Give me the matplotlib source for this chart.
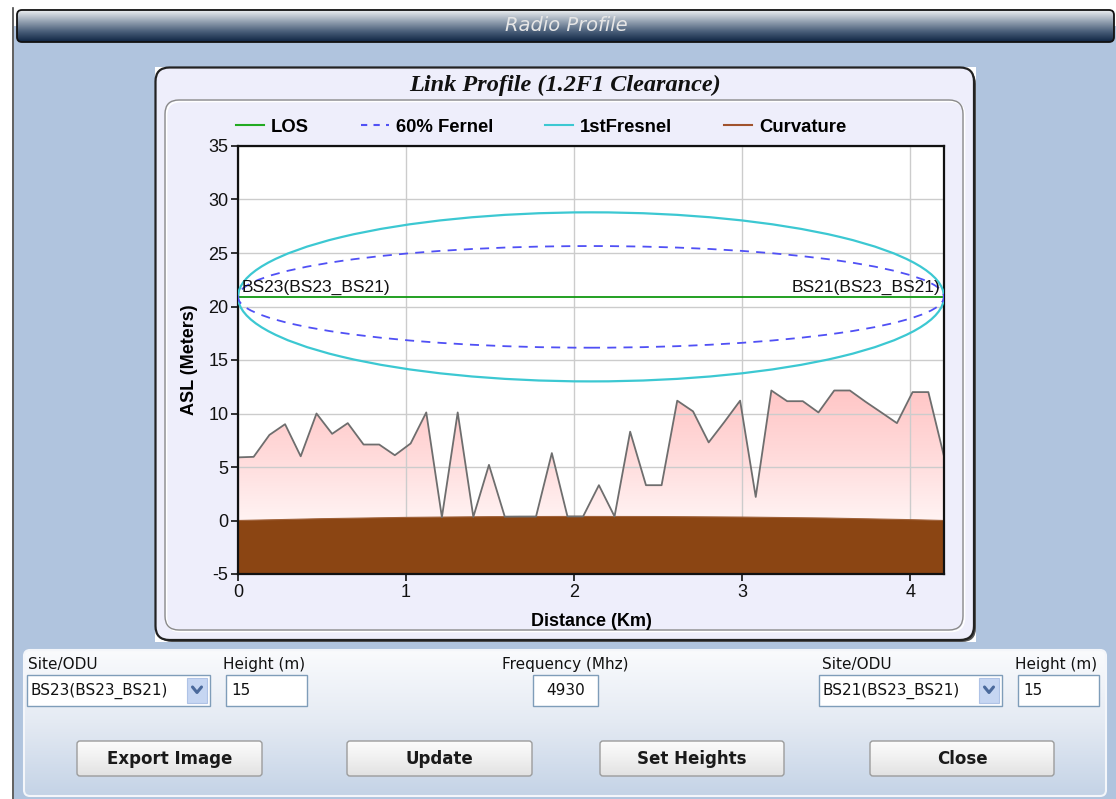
import numpy as np
import matplotlib
matplotlib.use("Agg")
import matplotlib.pyplot as plt
from matplotlib.patches import FancyBboxPatch, Ellipse, Rectangle
from matplotlib.colors import LinearSegmentedColormap
from matplotlib.lines import Line2D

plt.rcParams['font.family'] = ['Liberation Sans', 'DejaVu Sans']
plt.rcParams['axes.unicode_minus'] = False

# ---------------- data ----------------
window_title = "Radio Profile"
chart_title = "Link Profile (1.2F1 Clearance)"
x_label = "Distance (Km)"
y_label = "ASL (Meters)"
x_ticks = [0, 1, 2, 3, 4]
y_ticks = [-5, 0, 5, 10, 15, 20, 25, 30, 35]
legend_labels = ["LOS", "60% Fernel", "1stFresnel", "Curvature"]

site_a = "BS23(BS23_BS21)"
site_b = "BS21(BS23_BS21)"
link_length_km = 4.2
los_start_height = 20.9
los_end_height = 20.9
fresnel1_radius = 7.9       # first Fresnel zone radius at mid-path (m)
fresnel60_radius = 4.75     # 60 % Fresnel radius at mid-path (m)

terrain_dist = [0.000, 0.093, 0.187, 0.280, 0.373, 0.467, 0.560, 0.653, 0.747, 0.840,
                0.933, 1.027, 1.120, 1.213, 1.307, 1.400, 1.493, 1.587, 1.680, 1.773,
                1.867, 1.960, 2.053, 2.147, 2.240, 2.333, 2.427, 2.520, 2.613, 2.707,
                2.800, 2.893, 2.987, 3.080, 3.173, 3.267, 3.360, 3.453, 3.547, 3.640,
                3.733, 3.827, 3.920, 4.013, 4.107, 4.200]
terrain_height = [5.9, 5.95, 8.0, 9.0, 6.0, 10.0, 8.1, 9.1, 7.1, 7.1,
                  6.1, 7.2, 10.1, 0.31, 10.1, 0.34, 5.2, 0.36, 0.37, 0.37,
                  6.3, 0.38, 0.38, 3.3, 0.38, 8.3, 3.3, 3.3, 11.2, 10.2,
                  7.3, 9.2, 11.2, 2.2, 12.15, 11.15, 11.15, 10.1, 12.15, 12.15,
                  11.1, 10.1, 9.1, 12.0, 12.0, 6.0]

curv_dist = [0.0, 0.5, 1.0, 1.5, 2.0, 2.5, 3.0, 3.5, 4.0, 4.2]
curv_height = [0.0, 0.17, 0.29, 0.36, 0.38, 0.37, 0.32, 0.23, 0.08, 0.0]

ui_labels = ["Site/ODU", "Height (m)", "Frequency (Mhz)", "Site/ODU", "Height (m)"]
ui_values = [site_a, "15", "4930", site_b, "15"]
buttons = ["Export Image", "Update", "Set Heights", "Close"]

# ---------------- helpers ----------------
W, H = 1116, 799
fig = plt.figure(figsize=(W / 100, H / 100), dpi=100, facecolor="white")
bg = fig.add_axes([0, 0, 1, 1])
bg.set_zorder(0)
bg.axis("off")


def rbox(x0, y0, x1, y1, r, **kw):
    p = FancyBboxPatch((x0, y0), x1 - x0, y1 - y0,
                       boxstyle=f"round,pad=0,rounding_size={r}", **kw)
    bg.add_patch(p)
    return p


def gradient(patch, x0, y0, x1, y1, colors, z):
    arr = np.linspace(0, 1, 256).reshape(-1, 1)
    cmap = LinearSegmentedColormap.from_list("g", colors)
    im = bg.imshow(arr, cmap=cmap, extent=(x0, x1, y1, y0), origin="upper",
                   aspect="auto", interpolation="bicubic", zorder=z)
    im.set_clip_path(patch)
    return im


# window background
bg.add_patch(Rectangle((13.5, 26), W - 13.5, H - 26, facecolor="#B0C4DE", edgecolor="none", zorder=0.5))
bg.plot([12.5, 12.5], [8, H], color="#444444", lw=1.2, zorder=0.6)

# title bar
tb = rbox(17, 10, 1114, 42, 5, facecolor="none", edgecolor="none", zorder=1)
gradient(tb, 17, 10, 1114, 42, ["#EEF0F2", "#9AA7B6", "#4A5F7A", "#0E2442"], 1.1)
rbox(17, 10, 1114, 42, 5, facecolor="none", edgecolor="#111111", lw=1.3, zorder=1.2)
bg.text(566, 25.5, window_title, ha="center", va="center", color="#E6E6E6",
        fontsize=14, style="italic", family="DejaVu Sans", zorder=1.3)

# chart panel
bg.add_patch(Rectangle((155, 67), 821, 575, facecolor="white", edgecolor="none", zorder=1))
rbox(158, 70, 976, 642, 14, facecolor="#555555", edgecolor="none", zorder=1.1)
rbox(155.5, 67.5, 974, 640, 14, facecolor="#EEEEFB", edgecolor="#222222", lw=1.6, zorder=1.2)
rbox(166.5, 101.5, 964.5, 631.5, 14, facecolor="none", edgecolor="white", lw=1.2, zorder=1.3)
rbox(165, 100, 963, 630, 14, facecolor="none", edgecolor="#8A8A8A", lw=1.0, zorder=1.4)
bg.text(565, 85, chart_title, ha="center", va="center", fontsize=17.5,
        family="Liberation Serif", weight="bold", style="italic", color="#111111", zorder=1.5)

# bottom panel
bp = rbox(24, 650, 1106, 796, 6, facecolor="none", edgecolor="none", zorder=1)
gradient(bp, 24, 650, 1106, 796, ["#FAFBFD", "#E4EAF3", "#C4D3E6"], 1.1)
rbox(24, 650, 1106, 796, 6, facecolor="none", edgecolor="#F4F6FA", lw=1.5, zorder=1.2)

ui_font = dict(family="DejaVu Sans", fontsize=11, color="#111111", zorder=2)
label_x = [28, 223, 565, 822, 1015]
for i, (lab, lx) in enumerate(zip(ui_labels, label_x)):
    bg.text(lx, 664, lab, ha="center" if i == 2 else "left", va="center", **ui_font)

# combo boxes
for (x0, x1), val in [((27, 210), ui_values[0]), ((819, 1002), ui_values[3])]:
    bg.add_patch(Rectangle((x0, 675), x1 - x0, 31, facecolor="white", edgecolor="#7F9DB9", lw=1, zorder=1.5))
    bg.add_patch(Rectangle((x1 - 23, 678), 20, 25, facecolor="#C6D6F2", edgecolor="#AFC3E6", lw=0.8, zorder=1.6))
    cx = x1 - 13
    bg.plot([cx - 4.5, cx, cx + 4.5], [687, 692.5, 687], color="#4B6A9C", lw=2.2, zorder=1.7,
            solid_capstyle="round")
    bg.text(x0 + 3, 690.5, val, ha="left", va="center", **ui_font)

# text boxes
for (x0, x1), val, centered in [((226, 307), ui_values[1], False), ((533, 598), ui_values[2], True),
                                ((1018, 1099), ui_values[4], False)]:
    bg.add_patch(Rectangle((x0, 675), x1 - x0, 31, facecolor="white", edgecolor="#7F9DB9", lw=1, zorder=1.5))
    bg.text((x0 + x1) / 2 if centered else x0 + 5, 690.5, val,
            ha="center" if centered else "left", va="center", **ui_font)

# buttons
btn_x = [(77, 262), (347, 532), (600, 784), (870, 1054)]
for (x0, x1), lab in zip(btn_x, buttons):
    b = rbox(x0, 741, x1, 776, 3, facecolor="none", edgecolor="none", zorder=1.5)
    gradient(b, x0, 741, x1, 776, ["#FCFCFC", "#F0F0F0", "#E2E2E2"], 1.6)
    rbox(x0, 741, x1, 776, 3, facecolor="none", edgecolor="#9C9C9C", lw=1, zorder=1.7)
    bg.text((x0 + x1) / 2, 759, lab, ha="center", va="center", family="DejaVu Sans",
            fontsize=12, weight="bold", color="#1A1A1A", zorder=2)

bg.set_xlim(0, W)
bg.set_ylim(H, 0)

# ---------------- chart ----------------
ax = fig.add_axes([238 / W, 1 - 574 / H, 706 / W, 428 / H])
ax.set_zorder(1)
ax.set_facecolor("white")

# terrain with vertical gradient
poly = ax.fill_between(terrain_dist, -5, terrain_height, facecolor="#FFF2F2", edgecolor="none", zorder=1)
tcmap = LinearSegmentedColormap.from_list("t", ["#FFC6C6", "#FFDADA", "#FFF3F3"])
im = ax.imshow(np.linspace(0, 1, 256).reshape(-1, 1), cmap=tcmap,
               extent=(0, link_length_km, 0, max(terrain_height)), origin="upper",
               aspect="auto", interpolation="bicubic", zorder=1.1)
im.set_clip_path(poly.get_paths()[0], transform=ax.transData)

# curvature (earth bulge)
ax.fill_between(curv_dist, -5, curv_height, facecolor="#8B4513", edgecolor="none", zorder=2)
ax.plot(curv_dist, curv_height, color="#A0623A", lw=0.8, zorder=2.05)

# terrain outline
ax.plot(terrain_dist, terrain_height, color="#6E6E6E", lw=1.3, zorder=2.2)

# LOS and Fresnel zones
mid_h = (los_start_height + los_end_height) / 2
ax.plot([0, link_length_km], [los_start_height, los_end_height], color="#119911", lw=1.3, zorder=3)
ax.add_patch(Ellipse((link_length_km / 2, mid_h), link_length_km, 2 * fresnel1_radius,
                     facecolor="none", edgecolor="#3CC8D2", lw=1.6, zorder=3.1))
ax.add_patch(Ellipse((link_length_km / 2, mid_h), link_length_km, 2 * fresnel60_radius,
                     facecolor="none", edgecolor="#5050F5", lw=1.3, ls=(0, (5, 4)), zorder=3.2))

ax.text(0.02, los_start_height + 0.15, site_a, ha="left", va="bottom", fontsize=12.5, color="#111111", zorder=4)
ax.text(link_length_km - 0.02, los_end_height + 0.15, site_b, ha="right", va="bottom", fontsize=12.5,
        color="#111111", zorder=4)

ax.set_xlim(0, link_length_km)
ax.set_ylim(-5, 35)
ax.set_xticks(x_ticks)
ax.set_yticks(y_ticks)
ax.set_axisbelow("line")
ax.grid(True, color="#CCCCCC", lw=1.0)
ax.tick_params(direction="out", length=5, width=1.2, labelsize=13, pad=2, colors="#111111")
for s in ax.spines.values():
    s.set_linewidth(1.6)
    s.set_color("#111111")

ax.set_xlabel(x_label, fontsize=13, weight="bold", va="center")
ax.xaxis.set_label_coords(0.5, -0.11)
ax.set_ylabel(y_label, fontsize=13, weight="bold", va="center")
ax.yaxis.set_label_coords(-0.069, 0.5)

handles = [Line2D([], [], color="#22AA22", lw=1.5),
           Line2D([], [], color="#5050F5", lw=1.5, ls=(0, (3, 3))),
           Line2D([], [], color="#3CC8D2", lw=1.5),
           Line2D([], [], color="#A0522D", lw=1.5)]
fig.legend(handles, legend_labels, loc="center left", bbox_to_anchor=(236 / W, 1 - 127 / H),
           ncol=4, frameon=False, handlelength=1.5, handletextpad=0.4, columnspacing=2.8,
           borderpad=0, borderaxespad=0, prop=dict(family="Liberation Sans", weight="bold", size=13.3))

fig.savefig("out.png", dpi=100)
